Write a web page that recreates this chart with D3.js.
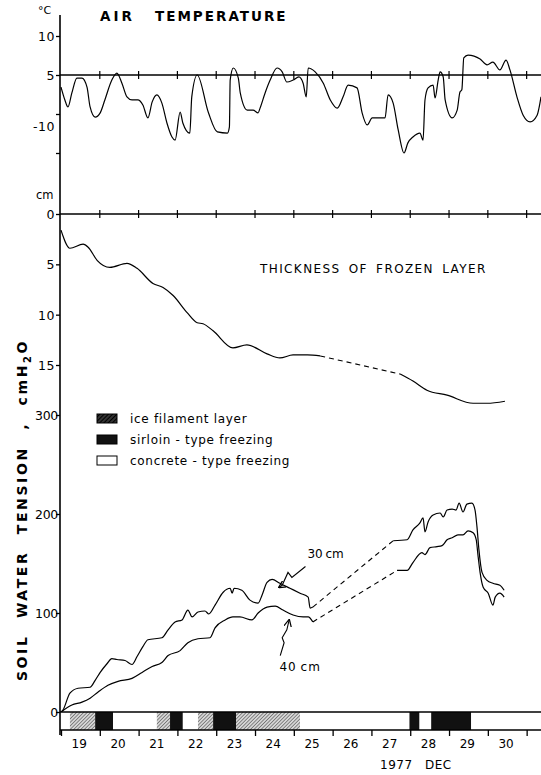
<!DOCTYPE html>
<html>
<head>
<meta charset="utf-8">
<script src="https://cdn.jsdelivr.net/npm/d3@7"></script>
<style>
  body { margin: 0; background: #fff; }
  svg { display: block; font-family: 'DejaVu Sans', sans-serif; }
</style>
</head>
<body>
<svg id="chart"></svg>
<script>
// ---- data ----
const days = d3.range(19, 31);          // day labels
const dayTicks = d3.range(19, 32);      // day boundaries

// air temperature [day, value]
const airTemp = [
  [19.00, -3.1], [19.10, -6.4], [19.18, -8.2], [19.28, -4.6], [19.41, -0.8], [19.54, -0.8],
  [19.67, -3.1], [19.75, -8.2], [19.88, -10.8], [20.01, -9.7], [20.13, -6.4], [20.31, -1.3],
  [20.44, 0.5], [20.57, -2.1], [20.70, -5.6], [20.83, -6.4], [20.98, -6.4], [21.11, -7.7],
  [21.24, -11.0], [21.35, -6.9], [21.47, -5.1], [21.60, -7.2], [21.73, -12.3], [21.86, -15.9],
  [21.94, -16.7], [22.07, -9.5], [22.14, -12.3], [22.32, -14.9], [22.37, -5.6], [22.51, 0.0],
  [22.80, -9.7], [23.03, -14.6], [23.29, -14.9], [23.34, -13.3], [23.36, -1.3], [23.44, 1.8],
  [23.57, -0.8], [23.62, -4.6], [23.80, -9.0], [23.95, -9.0], [24.08, -9.7], [24.13, -8.5],
  [24.26, -4.6], [24.39, -1.3], [24.57, 1.8], [24.70, 0.8], [24.82, -1.8], [24.98, -1.3],
  [25.13, -0.5], [25.24, -2.1], [25.32, -5.6], [25.37, 1.8], [25.55, 0.8], [25.76, -2.1],
  [25.94, -6.4], [26.12, -8.5], [26.27, -5.6], [26.40, -2.6], [26.63, -3.3], [26.76, -9.7],
  [26.89, -12.8], [27.02, -11.0], [27.35, -11.0], [27.43, -5.1], [27.56, -7.2], [27.69, -14.1],
  [27.84, -20.0], [27.94, -17.4], [28.07, -15.9], [28.25, -14.9], [28.33, -16.7], [28.38, -6.4],
  [28.46, -3.3], [28.59, -2.6], [28.64, -5.9], [28.72, -1.3], [28.77, 0.8], [28.85, -0.5],
  [28.90, -6.4], [29.08, -11.0], [29.21, -9.0], [29.28, -4.4], [29.33, -3.8], [29.38, 4.4],
  [29.49, 5.1], [29.80, 4.1], [29.98, 2.6], [30.13, 3.3], [30.31, 1.3], [30.47, 3.8],
  [30.57, 1.3], [30.75, -5.6], [30.91, -10.3], [31.09, -12.0], [31.27, -10.3], [31.37, -5.6]
];
const tempTicks = [10, 0, -10, -20];
const tempLabels = ['10', '5', '-10'];
const tempLabelAt = [10, 0, -13];

// thickness of frozen layer, cm
const frozenA = [
  [19.00, 1.6], [19.23, 3.4], [19.57, 3.0], [19.70, 3.3], [19.93, 4.6], [20.26, 5.3],
  [20.70, 4.9], [20.96, 5.4], [21.37, 6.9], [21.63, 7.3], [21.89, 8.1], [22.25, 9.8],
  [22.51, 10.8], [22.66, 10.9], [22.92, 11.6], [23.43, 13.3], [23.79, 13.0], [24.31, 13.9],
  [24.64, 14.3], [24.98, 14.0], [25.35, 14.0], [25.68, 14.1]
];
const frozenB = [
  [27.74, 15.9], [28.07, 16.6], [28.43, 17.5], [28.95, 18.0], [29.62, 18.8], [29.98, 18.8],
  [30.44, 18.6]
];
const depthTicks = [0, 5, 10, 15];

// soil water tension, cmH2O
const tension30A = [
  [19.00, 0], [19.05, 2], [19.23, 19], [19.44, 24], [19.75, 25], [19.88, 32], [20.01, 40],
  [20.19, 49], [20.31, 54], [20.44, 53], [20.65, 52], [20.83, 48], [20.96, 56], [21.11, 66],
  [21.24, 73], [21.60, 75], [21.76, 83], [21.94, 91], [22.12, 93], [22.27, 103], [22.38, 96],
  [22.53, 101], [22.71, 102], [22.81, 99], [22.97, 108], [23.18, 121], [23.36, 125], [23.41, 120],
  [23.46, 125], [23.66, 123], [23.87, 113], [24.08, 110], [24.18, 118], [24.31, 131], [24.44, 134],
  [24.64, 130], [24.90, 125], [25.16, 120], [25.37, 116], [25.42, 105], [25.49, 106]
];
const tension30B = [
  [27.56, 173], [27.92, 174], [28.07, 184], [28.25, 191], [28.33, 196], [28.38, 182], [28.46, 192],
  [28.59, 199], [28.77, 201], [28.85, 197], [28.95, 204], [29.08, 205], [29.18, 204], [29.26, 211],
  [29.36, 202], [29.46, 210], [29.59, 211], [29.67, 204], [29.72, 187], [29.77, 164], [29.85, 141],
  [29.98, 133], [30.13, 130], [30.31, 128], [30.42, 123]
];
const tension40A = [
  [19.00, 0], [19.28, 7], [19.54, 10], [19.75, 14], [19.95, 20], [20.21, 27], [20.47, 31],
  [20.83, 34], [21.09, 40], [21.35, 46], [21.60, 50], [21.76, 57], [22.07, 62], [22.27, 70],
  [22.53, 74], [22.84, 75], [22.97, 85], [23.23, 93], [23.43, 96], [23.61, 96], [23.92, 93],
  [24.08, 100], [24.31, 106], [24.52, 107], [24.72, 103], [24.98, 98], [25.24, 96], [25.37, 96],
  [25.49, 91]
];
const tension40B = [
  [27.66, 143], [27.92, 143], [28.07, 151], [28.30, 161], [28.38, 159], [28.51, 166], [28.69, 167],
  [28.82, 168], [28.95, 174], [29.08, 176], [29.23, 179], [29.36, 179], [29.49, 183], [29.62, 181],
  [29.70, 174], [29.75, 157], [29.80, 141], [29.88, 126], [30.01, 120], [30.13, 108], [30.19, 116],
  [30.31, 120], [30.42, 116]
];
const tensionTicks = [0, 100, 200, 300];

// freezing type strip [start, end, type]
const freezing = [
  [19.00, 19.23, 'concrete'], [19.23, 19.88, 'ice'], [19.88, 20.34, 'sirloin'],
  [20.34, 21.47, 'concrete'], [21.47, 21.81, 'ice'], [21.81, 22.14, 'sirloin'],
  [22.14, 22.53, 'concrete'], [22.53, 22.92, 'ice'], [22.92, 23.51, 'sirloin'],
  [23.51, 25.16, 'ice'], [25.16, 27.98, 'concrete'], [27.98, 28.24, 'sirloin'],
  [28.24, 28.54, 'concrete'], [28.54, 29.57, 'sirloin'], [29.57, 31.37, 'concrete']
];
const legendItems = [
  ['ice', 'ice filament layer'],
  ['sirloin', 'sirloin - type freezing'],
  ['concrete', 'concrete - type freezing']
];

// ---- layout ----
const width = 541, height = 775;
const svg = d3.select('#chart').attr('width', width).attr('height', height);

const x = d3.scaleLinear().domain([19, 31.37]).range([61, 541]);
const yT = d3.scaleLinear().domain([-20, 10]).range([153, 36]);
const yD = d3.scaleLinear().domain([0, 15]).range([214, 365]);
const yS = d3.scaleLinear().domain([0, 300]).range([712, 415]);
const stripBottom = 730;

const defs = svg.append('defs');
const hatch = defs.append('pattern')
  .attr('id', 'hatch')
  .attr('patternUnits', 'userSpaceOnUse')
  .attr('width', 2.5).attr('height', 2.5)
  .attr('patternTransform', 'rotate(45)');
hatch.append('rect').attr('width', 2.5).attr('height', 2.5).attr('fill', '#d6d6d6');
hatch.append('line')
  .attr('x1', 0).attr('y1', 0).attr('x2', 0).attr('y2', 2.5)
  .attr('stroke', '#333').attr('stroke-width', 1);
const dark = defs.append('pattern')
  .attr('id', 'hatchDark')
  .attr('patternUnits', 'userSpaceOnUse')
  .attr('width', 3).attr('height', 3)
  .attr('patternTransform', 'rotate(45)');
dark.append('rect').attr('width', 3).attr('height', 3).attr('fill', '#333');
dark.append('line')
  .attr('x1', 0).attr('y1', 0).attr('x2', 0).attr('y2', 3)
  .attr('stroke', '#000').attr('stroke-width', 2);

const fillFor = {ice: 'url(#hatch)', sirloin: '#111', concrete: '#fff'};

const line = (ys) => d3.line()
  .x(d => x(d[0]))
  .y(d => ys(d[1]))
  .curve(d3.curveMonotoneX);

const txt = (g, s, px, py, size, extra) => {
  const t = g.append('text')
    .attr('x', px).attr('y', py)
    .attr('font-size', size)
    .text(s);
  if (extra) extra(t);
  return t;
};

// ---- left axis ----
svg.append('line')
  .attr('x1', 60).attr('x2', 60)
  .attr('y1', 15).attr('y2', 735)
  .attr('stroke', '#000').attr('stroke-width', 1.6);

const leftTicks = (scale, vals) => {
  svg.append('g')
    .attr('transform', 'translate(60,0)')
    .call(d3.axisLeft(scale).tickValues(vals).tickSize(4).tickFormat(''))
    .call(g => g.select('.domain').remove())
    .selectAll('line').attr('stroke-width', 1.3);
};
leftTicks(yT, tempTicks);
leftTicks(yD, depthTicks);
leftTicks(yS, tensionTicks);

const labels = svg.append('g').attr('text-anchor', 'end').attr('fill', '#000');
tempLabels.forEach((s, i) => txt(labels, s, 55, yT(tempLabelAt[i]) + 5, 12.5, t => t.attr('letter-spacing', 0.5)));
depthTicks.forEach(v => txt(labels, String(v), 55, yD(v) + 5, 12.5, t => t.attr('letter-spacing', 0.5)));
tensionTicks.forEach(v => txt(labels, String(v), 58, yS(v) + 5, 12.5, t => t.attr('letter-spacing', -0.3)));

txt(svg, '°C', 38, 14, 11);
txt(svg, 'cm', 36, 199, 11.5);

// ---- top panel: air temperature ----
const ref = svg.append('g');
[[yT(0)], [yD(0)]].forEach(([yy]) => {
  ref.append('line')
    .attr('x1', 60).attr('x2', width)
    .attr('y1', yy).attr('y2', yy)
    .attr('stroke', '#000').attr('stroke-width', 1.5);
  ref.selectAll(null)
    .data(dayTicks.slice(1))
    .join('line')
    .attr('x1', d => x(d)).attr('x2', d => x(d))
    .attr('y1', yy - 4).attr('y2', yy + 4)
    .attr('stroke', '#000').attr('stroke-width', 1.2);
});

svg.append('path')
  .datum(airTemp)
  .attr('d', line(yT))
  .attr('fill', 'none').attr('stroke', '#000').attr('stroke-width', 1.2);

txt(svg, 'AIR', 100, 21, 13.5, t => t.attr('font-weight', 'bold').attr('letter-spacing', 3));
txt(svg, 'TEMPERATURE', 155, 21, 13.5, t => t.attr('font-weight', 'bold').attr('letter-spacing', 2));

// ---- middle panel: frozen layer ----
const curve = (data, ys, dashed) => svg.append('path')
  .datum(data)
  .attr('d', line(ys))
  .attr('fill', 'none').attr('stroke', '#000')
  .attr('stroke-width', dashed ? 1.1 : 1.2)
  .attr('stroke-dasharray', dashed ? '5,4' : null);

curve(frozenA, yD);
curve([frozenA[frozenA.length - 1], frozenB[0]], yD, true);
curve(frozenB, yD);

txt(svg, 'THICKNESS OF FROZEN LAYER', 260, 273, 12, t => t.attr('letter-spacing', 1.4).attr('word-spacing', 3));

// ---- bottom panel: soil water tension ----
curve(tension30A, yS);
curve([tension30A[tension30A.length - 1], tension30B[0]], yS, true);
curve(tension30B, yS);
curve(tension40A, yS);
curve([tension40A[tension40A.length - 1], tension40B[0]], yS, true);
curve(tension40B, yS);

// depth labels with wiggly arrows (positions in data units)
const arrow30 = [[25.30, 147], [24.95, 136], [24.85, 141], [24.70, 128], [24.62, 126]];
const arrow40 = [[24.65, 57], [24.75, 70], [24.70, 75], [24.82, 83], [24.88, 93]];
defs.append('marker')
  .attr('id', 'head')
  .attr('viewBox', '0 0 10 10')
  .attr('refX', 9).attr('refY', 5)
  .attr('markerWidth', 7).attr('markerHeight', 7)
  .attr('orient', 'auto')
  .append('path').attr('d', 'M0,0 L10,5 L0,10').attr('fill', 'none').attr('stroke', '#000').attr('stroke-width', 1.6);
[arrow30, arrow40].forEach(a => {
  svg.append('path')
    .datum(a)
    .attr('d', d3.line().x(d => x(d[0])).y(d => yS(d[1])))
    .attr('fill', 'none').attr('stroke', '#000').attr('stroke-width', 1.1)
    .attr('marker-end', 'url(#head)');
});
txt(svg, '30 cm', x(25.35), yS(156), 12, t => t.attr('word-spacing', -1));
txt(svg, '40 cm', x(24.63), yS(41), 12, t => t.attr('letter-spacing', 1).attr('word-spacing', -1));

// legend
const legend = svg.append('g');
legendItems.forEach(([k, label], i) => {
  const ly = 414 + i * 21;
  legend.append('rect')
    .attr('x', 97).attr('y', ly)
    .attr('width', 20).attr('height', 9)
    .attr('fill', k === 'ice' ? 'url(#hatchDark)' : fillFor[k])
    .attr('stroke', '#000').attr('stroke-width', 1);
  txt(legend, label, 130, ly + 9, 12, t => t.attr('letter-spacing', 0.7));
});

// rotated y title
const yTitle = svg.append('text')
  .attr('transform', 'translate(27,510) rotate(-90)')
  .attr('text-anchor', 'middle')
  .attr('font-size', 14)
  .attr('font-weight', 'bold')
  .attr('letter-spacing', 2.6)
  .attr('word-spacing', 9);
yTitle.append('tspan').text('SOIL WATER TENSION , cmH');
yTitle.append('tspan').attr('font-size', 10).attr('dy', 4).text('2');
yTitle.append('tspan').attr('dy', -4).text('O');

// ---- freezing type strip ----
svg.append('g')
  .selectAll('rect')
  .data(freezing)
  .join('rect')
  .attr('x', d => x(d[0]))
  .attr('y', yS(0))
  .attr('width', d => x(d[1]) - x(d[0]))
  .attr('height', stripBottom - yS(0))
  .attr('fill', d => fillFor[d[2]]);

[yS(0), stripBottom].forEach(yy => {
  svg.append('line')
    .attr('x1', 60).attr('x2', width)
    .attr('y1', yy).attr('y2', yy)
    .attr('stroke', '#000').attr('stroke-width', 1.3);
});

// bottom axis
svg.append('g')
  .attr('transform', 'translate(0,' + stripBottom + ')')
  .call(d3.axisBottom(x).tickValues(dayTicks).tickSize(6).tickFormat(''))
  .call(g => g.select('.domain').remove())
  .selectAll('line').attr('stroke-width', 1.3);

svg.append('g')
  .attr('text-anchor', 'middle')
  .selectAll('text')
  .data(days)
  .join('text')
  .attr('x', d => x(d + 0.47))
  .attr('y', 748)
  .attr('font-size', 12)
  .text(d => d);

txt(svg, '1977', 380, 769, 12, t => t.attr('letter-spacing', 0.5));
txt(svg, 'DEC', 425, 769, 12, t => t.attr('letter-spacing', 0.5));
</script>
</body>
</html>
